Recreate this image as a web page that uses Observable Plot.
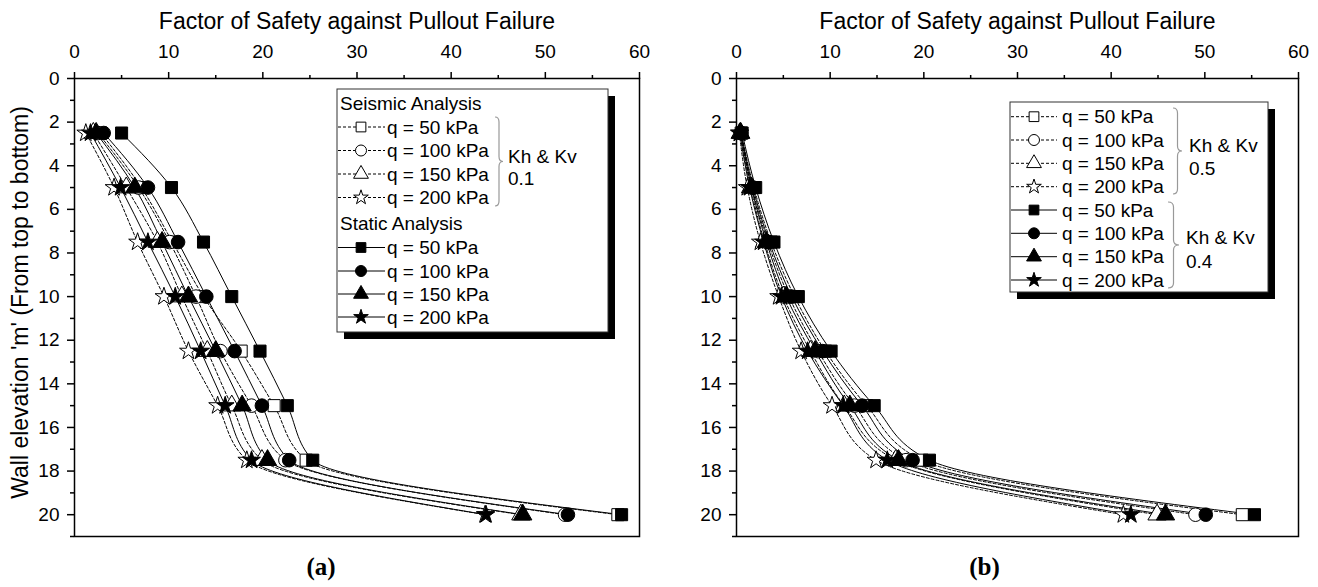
<!DOCTYPE html>
<html><head><meta charset="utf-8">
<script src="https://cdn.jsdelivr.net/npm/d3@7"></script>
<script src="https://cdn.jsdelivr.net/npm/@observablehq/plot@0.6"></script>
<style>
body{margin:0;background:#fff;font-family:"Liberation Sans",Arial,sans-serif;}
#wrap{display:flex;width:1318px;height:587px;overflow:hidden;}
</style></head><body><div id="wrap"></div>
<script>
// ---- data ----
const depth = [2.5, 5, 7.5, 10, 12.5, 15, 17.5, 20];
const qLabels = ["q = 50 kPa", "q = 100 kPa", "q = 150 kPa", "q = 200 kPa"];
const symbolNames = ["square", "circle", "triangle", "star"];
const xMajor = [0, 10, 20, 30, 40, 50, 60];
const xMinor = [5, 15, 25, 35, 45, 55];
const yMajor = [0, 2, 4, 6, 8, 10, 12, 14, 16, 18, 20];
const yMinor = [1, 3, 5, 7, 9, 11, 13, 15, 17, 19, 21];

// Panel (a): seismic (Kh & Kv 0.1) and static
const aSeis50  = [2.8, 7.1, 10.4, 13.7, 17.7, 21.2, 24.6, 57.7];
const aSeis100 = [2.5, 6.8, 10.1, 12.9, 15.5, 18.8, 22.4, 52.1];
const aSeis150 = [2.0, 5.5, 8.8, 11.4, 14.1, 16.7, 19.9, 47.4];
const aSeis200 = [1.2, 4.2, 6.7, 9.5, 12.1, 15.2, 18.3, 43.6];
const aStat50  = [5.0, 10.3, 13.7, 16.7, 19.7, 22.6, 25.3, 58.1];
const aStat100 = [3.1, 7.8, 11.0, 14.0, 17.0, 19.9, 22.8, 52.4];
const aStat150 = [2.3, 6.4, 9.3, 12.1, 15.0, 17.8, 20.5, 47.6];
const aStat200 = [1.7, 4.9, 7.8, 10.7, 13.4, 16.0, 18.8, 43.7];

// Panel (b): Kh & Kv 0.5 (open) and 0.4 (filled)
const bK05q50  = [0.5, 1.85, 3.7, 6.2, 9.5, 13.9, 19.8, 54.0];
const bK05q100 = [0.45, 1.65, 3.35, 5.6, 8.7, 12.6, 18.1, 49.0];
const bK05q150 = [0.4, 1.5, 3.0, 5.0, 7.9, 11.5, 17.0, 44.9];
const bK05q200 = [0.3, 1.15, 2.55, 4.5, 6.9, 10.2, 14.9, 41.3];
const bK04q50  = [0.6, 2.05, 4.0, 6.6, 10.1, 14.7, 20.6, 55.3];
const bK04q100 = [0.5, 1.75, 3.5, 5.9, 9.2, 13.4, 18.8, 50.1];
const bK04q150 = [0.45, 1.6, 3.2, 5.3, 8.4, 12.1, 17.3, 45.8];
const bK04q200 = [0.35, 1.4, 2.9, 4.8, 7.6, 11.4, 16.1, 42.1];

const symbolR = [6.8, 6.8, 6.8, 5.6];

function rowsOf(seriesList, kind) {
  const out = [];
  seriesList.forEach((vals, i) => vals.forEach((v, j) =>
    out.push({kind, q: i, id: kind + i, depth: depth[j], fs: v})));
  return out;
}

function makePanel(opts) {
  const openRows = rowsOf(opts.open, "o");
  const fillRows = rowsOf(opts.filled, "f");
  const marks = [
    Plot.axisX({anchor: "top", ticks: xMajor, tickSize: 7, tickPadding: 14, fontSize: 19, strokeWidth: 1.5, label: null}),
    Plot.axisX({anchor: "top", ticks: xMinor, tickSize: 4, strokeWidth: 1.5, tickFormat: () => "", label: null}),
    Plot.axisY({anchor: "left", ticks: yMajor, tickSize: 7, tickPadding: 8, fontSize: 19, strokeWidth: 1.5, label: null}),
    Plot.axisY({anchor: "left", ticks: yMinor, tickSize: 4, strokeWidth: 1.5, tickFormat: () => "", label: null}),
    Plot.frame({stroke: "black", strokeWidth: 1.5}),
    Plot.line(openRows, {x: "fs", y: "depth", z: "id", curve: "monotone-y", stroke: "black", strokeWidth: 1, strokeDasharray: "3,2"}),
    Plot.line(fillRows, {x: "fs", y: "depth", z: "id", curve: "monotone-y", stroke: "black", strokeWidth: 1}),
    Plot.dot(openRows, {x: "fs", y: "depth", symbol: d => symbolNames[d.q], r: d => symbolR[d.q], fill: "white", stroke: "black", strokeWidth: 1}),
    Plot.dot(fillRows, {x: "fs", y: "depth", symbol: d => symbolNames[d.q], r: d => symbolR[d.q], fill: "black", stroke: "black", strokeWidth: 1}),
    Plot.text(["Factor of Safety against Pullout Failure"], {text: d => d, frameAnchor: "top", dy: -66, fontSize: 23, fill: "black"}),
    Plot.text([opts.panelLabel], {text: d => d, frameAnchor: "bottom", dx: opts.labelDx, dy: 38, fontSize: 25, fontWeight: "bold", fontFamily: "Liberation Serif, Times New Roman, serif", fill: "black"})
  ];
  if (opts.yTitle) marks.push(Plot.text([opts.yTitle], {text: d => d, frameAnchor: "left", textAnchor: "middle", rotate: -90, dx: -54, dy: -5, fontSize: 23, fill: "black"}));
  return Plot.plot({
    width: 659, height: 587,
    marginTop: 78, marginBottom: 51, marginLeft: opts.marginLeft, marginRight: 20,
    x: {domain: [0, 60]},
    y: {domain: [0, 21], reverse: true},
    r: {type: "identity"},
    style: {background: "white", fontFamily: "Liberation Sans, Arial, sans-serif", color: "black", overflow: "visible"},
    marks
  });
}

function bracePath(x, y1, y2, w) {
  const ym = (y1 + y2) / 2, xm = x + w / 2, r = 5;
  return `M${x},${y1} Q${xm},${y1} ${xm},${y1 + r} L${xm},${ym - r} Q${xm},${ym} ${x + w},${ym} Q${xm},${ym} ${xm},${ym + r} L${xm},${y2 - r} Q${xm},${y2} ${x},${y2}`;
}

function drawLegend(svg, L) {
  const g = d3.select(svg).append("g")
    .attr("font-family", "Liberation Sans, Arial, sans-serif").attr("font-size", 19)
    .attr("text-anchor", "start").attr("fill", "black");
  g.append("rect").attr("x", L.box[0] + 7).attr("y", L.box[1] + 7).attr("width", L.box[2]).attr("height", L.box[3]).attr("fill", "black");
  g.append("rect").attr("x", L.box[0]).attr("y", L.box[1]).attr("width", L.box[2]).attr("height", L.box[3]).attr("fill", "white").attr("stroke", "#333").attr("stroke-width", 1);
  const symMap = {square: d3.symbolSquare, circle: d3.symbolCircle, triangle: d3.symbolTriangle, star: d3.symbolStar};
  for (const row of L.rows) {
    const r = row.q === 3 ? 4.6 : 5.5;
    g.append("line").attr("x1", L.lineX[0]).attr("x2", L.lineX[1]).attr("y1", row.y).attr("y2", row.y)
      .attr("stroke", "black").attr("stroke-width", 1).attr("stroke-dasharray", row.open ? "3,2" : null);
    g.append("path").attr("d", d3.symbol(symMap[symbolNames[row.q]], Math.PI * r * r)())
      .attr("transform", `translate(${L.symX},${row.y})`)
      .attr("fill", row.open ? "white" : "black").attr("stroke", "black").attr("stroke-width", 1);
    g.append("text").attr("x", L.textX).attr("y", row.y).attr("dy", "0.35em").attr("text-anchor", "start").text(qLabels[row.q]);
  }
  for (const h of L.headers) g.append("text").attr("x", h.x).attr("y", h.y).attr("dy", "0.35em").attr("text-anchor", "start").text(h.text);
  for (const b of L.braces) g.append("path").attr("d", bracePath(b.x, b.y1, b.y2, b.w)).attr("fill", "none").attr("stroke", "#999").attr("stroke-width", 1.2);
  for (const n of L.notes) g.append("text").attr("x", n.x).attr("y", n.y).attr("dy", "0.35em").attr("text-anchor", "start").text(n.text);
}

const wrap = document.getElementById("wrap");
const svgA = makePanel({
  open: [aSeis50, aSeis100, aSeis150, aSeis200],
  filled: [aStat50, aStat100, aStat150, aStat200],
  marginLeft: 74, panelLabel: "(a)", labelDx: -36,
  yTitle: "Wall elevation 'm' (From top to bottom)"
});
const svgB = makePanel({
  open: [bK05q50, bK05q100, bK05q150, bK05q200],
  filled: [bK04q50, bK04q100, bK04q150, bK04q200],
  marginLeft: 77, panelLabel: "(b)", labelDx: -33
});
wrap.appendChild(svgA);
wrap.appendChild(svgB);

const aRowY = [127, 150.5, 174, 197.5, 247.5, 271, 294, 317];
drawLegend(svgA, {
  box: [337, 89, 271, 243],
  lineX: [338, 385], symX: 361, textX: 387,
  rows: [0, 1, 2, 3].map(q => ({q, open: true, y: aRowY[q]})).concat([0, 1, 2, 3].map(q => ({q, open: false, y: aRowY[q + 4]}))),
  headers: [{x: 340, y: 103.5, text: "Seismic Analysis"}, {x: 340, y: 223.5, text: "Static Analysis"}],
  braces: [{x: 495, y1: 117, y2: 206, w: 8}],
  notes: [{x: 508, y: 156.5, text: "Kh & Kv"}, {x: 508, y: 178.5, text: "0.1"}]
});
const off = 659;
const bRowY = [116.7, 140, 163.3, 186.7, 210, 233.3, 256.7, 280];
drawLegend(svgB, {
  box: [1010 - off, 102, 258, 190],
  lineX: [1011 - off, 1057 - off], symX: 1034 - off, textX: 1062 - off,
  rows: [0, 1, 2, 3].map(q => ({q, open: true, y: bRowY[q]})).concat([0, 1, 2, 3].map(q => ({q, open: false, y: bRowY[q + 4]}))),
  headers: [],
  braces: [{x: 1173 - off, y1: 108, y2: 194, w: 9}, {x: 1168 - off, y1: 202, y2: 288, w: 11}],
  notes: [{x: 1189 - off, y: 145, text: "Kh & Kv"}, {x: 1189 - off, y: 168, text: "0.5"},
          {x: 1186 - off, y: 237, text: "Kh & Kv"}, {x: 1186 - off, y: 261, text: "0.4"}]
});
</script></body></html>
